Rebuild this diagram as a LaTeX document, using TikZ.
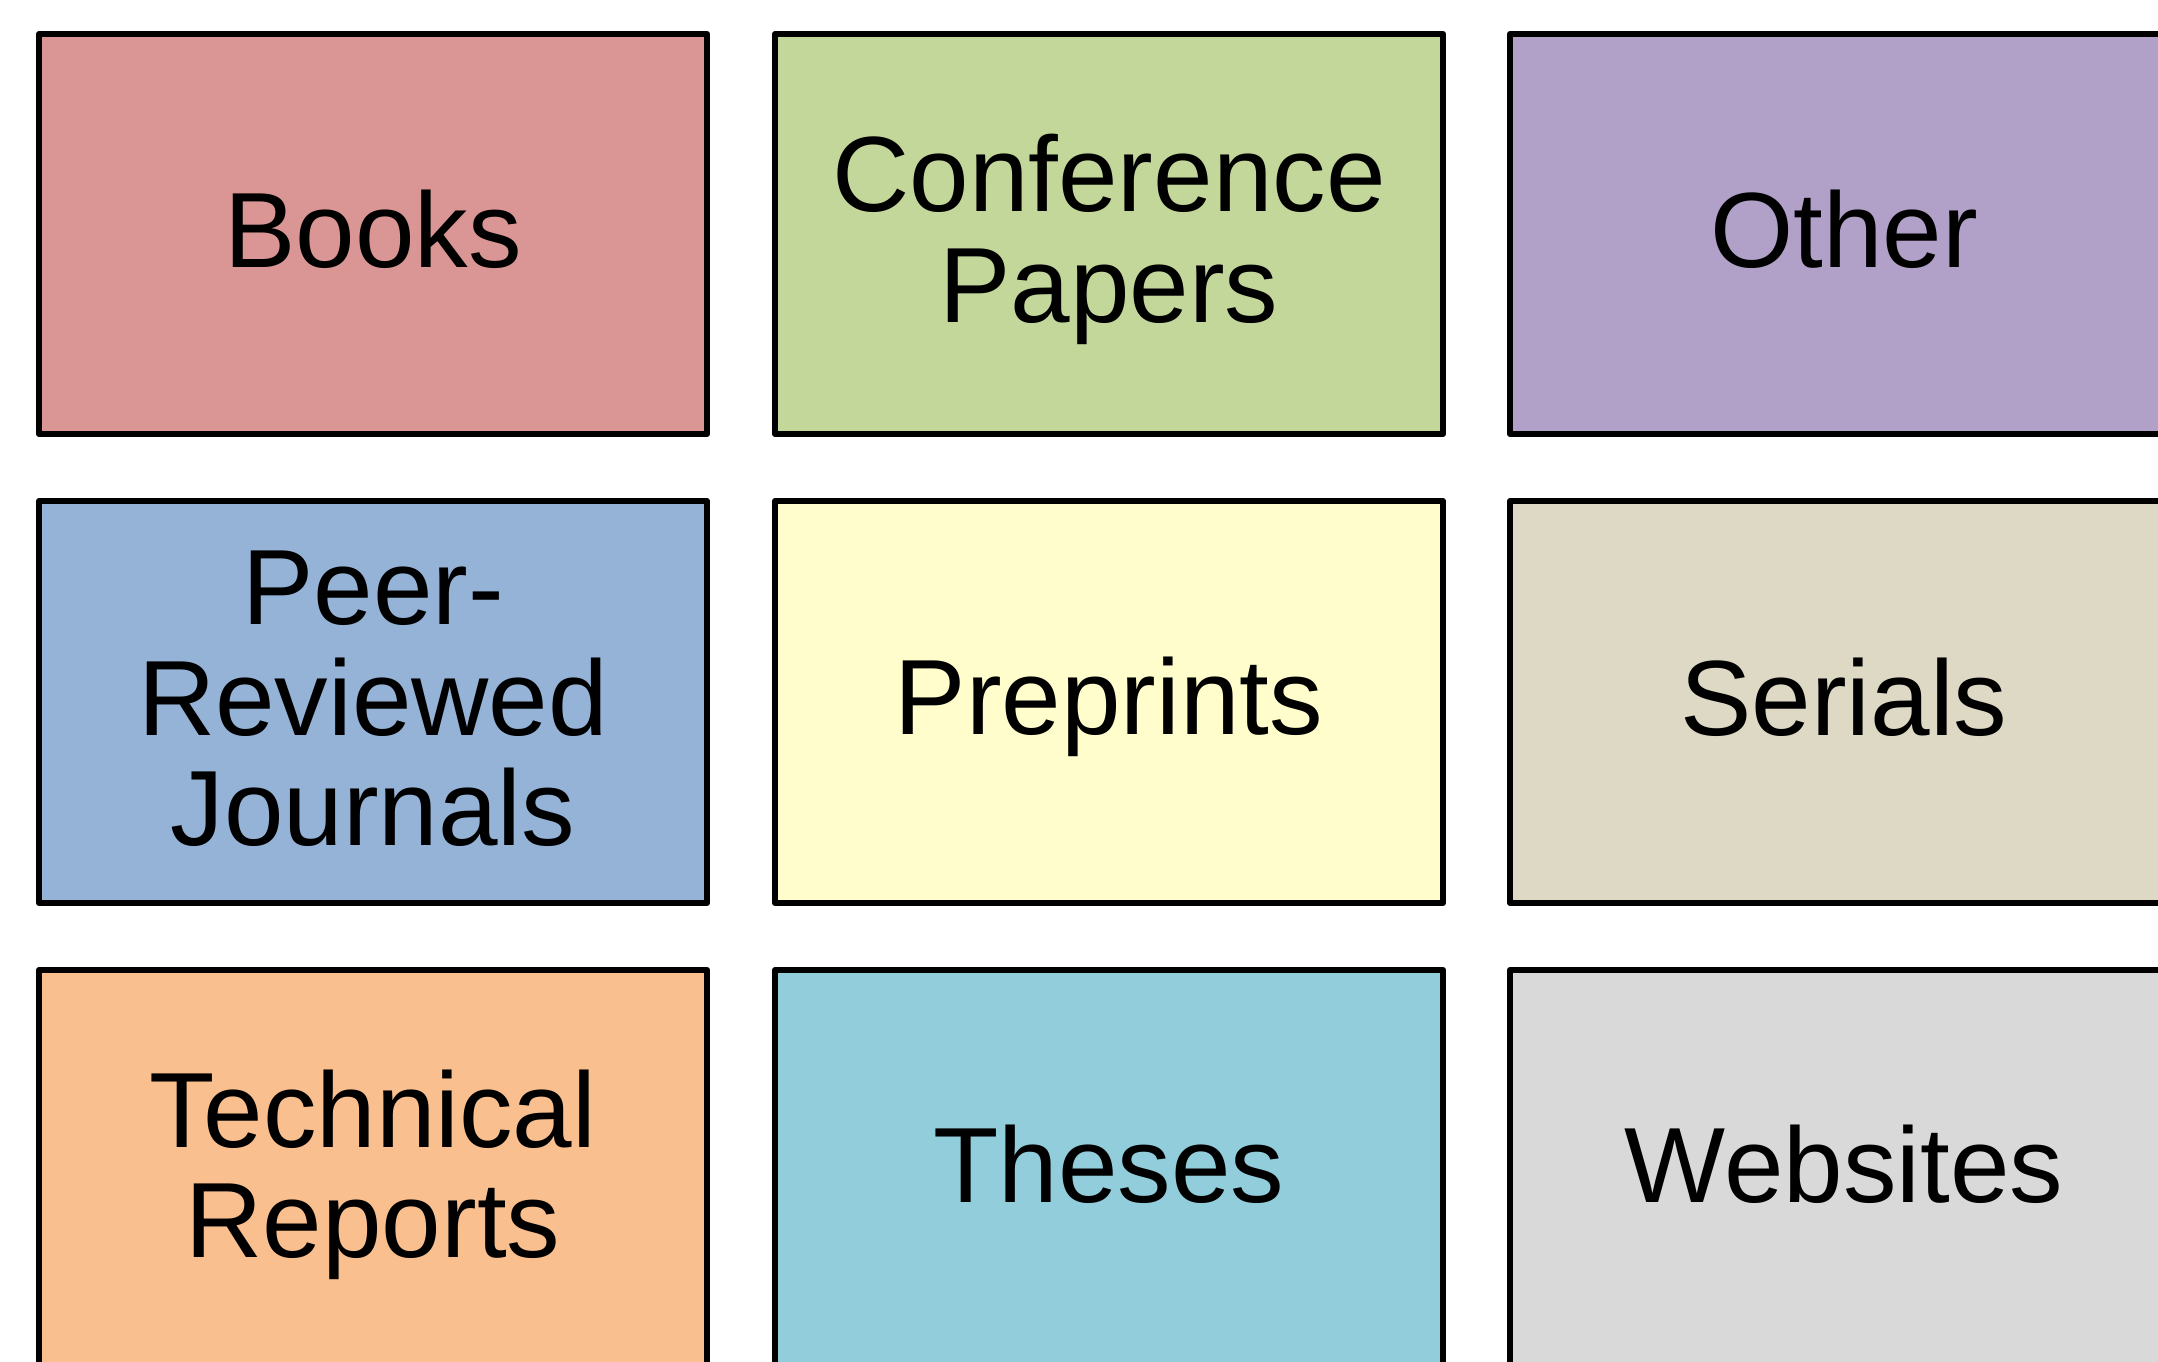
\documentclass[tikz,border=0pt]{standalone}
\usepackage{fontspec}
\setmainfont{Liberation Sans}
\definecolor{cBooks}{HTML}{DA9694}
\definecolor{cConf}{HTML}{C4D79B}
\definecolor{cOther}{HTML}{B1A0C7}
\definecolor{cPeer}{HTML}{95B3D7}
\definecolor{cPre}{HTML}{FFFDCC}
\definecolor{cSer}{HTML}{DDD9C4}
\definecolor{cTech}{HTML}{FABF8F}
\definecolor{cThes}{HTML}{92CDDC}
\definecolor{cWeb}{HTML}{D9D9D9}
\newcommand{\lnstrut}{\vrule height 88pt depth 22pt width 0pt}
\begin{document}
\begin{tikzpicture}[x=1pt,y=-1pt,
  cell/.style={draw=black, line width=6pt, line join=round,
    minimum width=668pt, minimum height=400pt, inner sep=0pt,
    align=center, font=\fontsize{107}{110.5}\selectfont}]
\clip (0,0) rectangle (2158,1362);
\fill[white] (0,0) rectangle (2158,1362);
\node[cell, fill=cBooks] (books) at (373,234) {\lnstrut Books};
\node[cell, fill=cConf] (conf) at (1109,234) {\lnstrut Conference\\\lnstrut Papers};
\node[cell, fill=cOther] (other) at (1844,234) {\lnstrut Other};
\node[cell, fill=cPeer, minimum height=402pt] (peer) at (373,702) {\lnstrut Peer-\\\lnstrut Reviewed\\\lnstrut Journals};
\node[cell, fill=cPre, minimum height=402pt] (pre) at (1109,702) {\lnstrut Preprints};
\node[cell, fill=cSer, minimum height=402pt] (ser) at (1844,702) {\lnstrut Serials};
\node[cell, fill=cTech, minimum height=399pt] (tech) at (373,1169.5) {\lnstrut Technical\\\lnstrut Reports};
\node[cell, fill=cThes, minimum height=399pt] (thes) at (1109,1169.5) {\lnstrut Theses};
\node[cell, fill=cWeb, minimum height=399pt] (web) at (1844,1169.5) {\lnstrut Websites};
\end{tikzpicture}
\end{document}
